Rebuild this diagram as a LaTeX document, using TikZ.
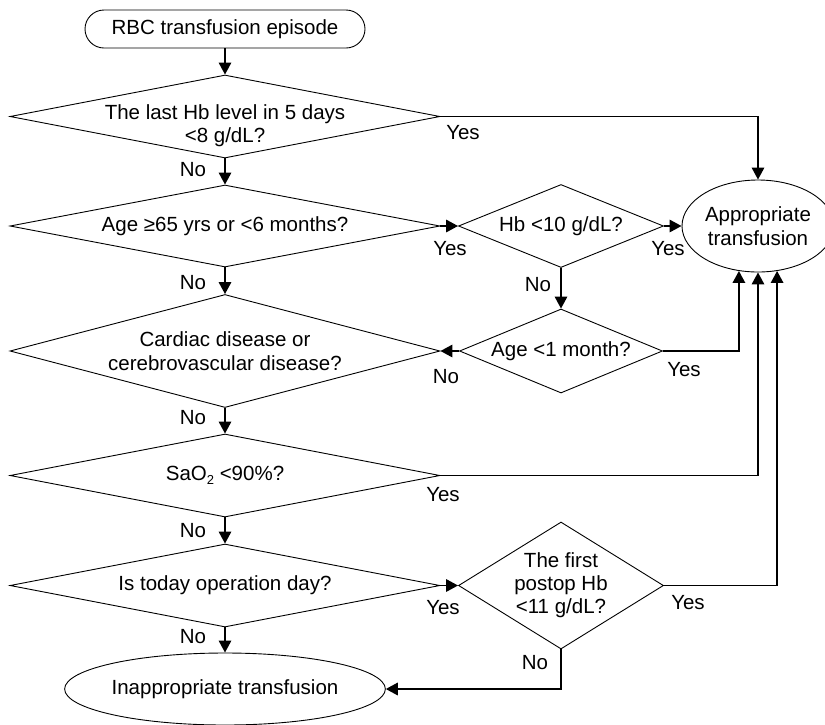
\documentclass[tikz,border=0pt]{standalone}
\usepackage{fontspec}
\setmainfont{Liberation Sans}
\usetikzlibrary{shapes.geometric,arrows.meta,calc}
\begin{document}
\begin{tikzpicture}[x=1pt,y=-1pt,
  every node/.style={font=\fontsize{20.5}{24}\selectfont},
  dec/.style={draw,line width=0.9pt,shape=diamond,inner xsep=-70pt,inner ysep=-10pt,align=center},
  term/.style={draw,line width=0.9pt,shape=ellipse,inner sep=0pt,align=center},
  conn/.style={line width=1.7pt,-{Triangle[length=12pt,width=12.5pt]}},
  lbl/.style={inner sep=0pt}]
\useasboundingbox (0,0) rectangle (825,724);
\node[draw,line width=0.9pt,rounded corners=19pt,minimum width=280pt,minimum height=38pt,inner sep=0pt] (start) at (225,29) {RBC transfusion episode};
\node[dec,aspect=5.18,minimum width=430pt,minimum height=83pt] (d1) at (225,116.5) {\rule{0pt}{33pt}The last Hb level in 5 days\\[-1pt]{<}8 g/dL?};
\node[dec,aspect=5.24,minimum width=430pt,minimum height=82pt] (d2) at (225,226) {Age ≥65 yrs or {<}6 months?};
\node[dec,aspect=3.81,minimum width=430pt,minimum height=113pt] (d3) at (225,351) {Cardiac disease or\\cerebrovascular disease?};
\node[dec,aspect=5.18,minimum width=430pt,minimum height=83pt] (d4) at (225,475.5) {SaO\raisebox{-4pt}{\fontsize{13}{13}\selectfont 2} {<}90\%?};
\node[dec,aspect=5.18,minimum width=430pt,minimum height=83pt] (d5) at (225,585.5) {Is today operation day?};
\node[dec,aspect=2.47,minimum width=205pt,minimum height=83pt] (hb) at (561,226) {Hb {<}10 g/dL?};
\node[dec,aspect=2.42,minimum width=203pt,minimum height=84pt] (age1) at (561,351) {Age {<}1 month?};
\node[dec,aspect=1.61,minimum width=205pt,minimum height=127pt] (post) at (561,585.5) {The first\\[-1pt]postop Hb\\[-1pt]{<}11 g/dL?};
\node[term,minimum width=152pt,minimum height=92pt] (app) at (758,226) {Appropriate\\transfusion};
\node[term,minimum width=304pt,minimum height=72pt] (inapp) at (225,689) {Inappropriate transfusion};

\draw[conn] (start.south) -- (d1.north);
\draw[conn] (d1.south) -- (d2.north);
\draw[conn] (d1.east) -| (app.north);
\draw[conn] (d2.east) -- (hb.west);
\draw[conn] (hb.east) -- (app.west);
\draw[conn] (hb.south) -- (age1.north);
\draw[conn] (age1.west) -- (d3.east);
\draw[conn] (age1.east) -| (app.247);
\draw[conn] (d2.south) -- (d3.north);
\draw[conn] (d3.south) -- (d4.north);
\draw[conn] (d4.east) -| (app.south);
\draw[conn] (d4.south) -- (d5.north);
\draw[conn] (d5.east) -- (post.west);
\draw[conn] (post.east) -| (app.293);
\draw[conn] (d5.south) -- (inapp.north);
\draw[conn] (post.south) |- (inapp.east);

\node[lbl] (l1) at (193,170) {No};
\node[lbl] (l2) at (193,283) {No};
\node[lbl] (l3) at (193,418) {No};
\node[lbl] (l4) at (193,531) {No};
\node[lbl] (l5) at (193,637) {No};
\node[lbl] (y1) at (463,133) {Yes};
\node[lbl] (y2) at (450,249) {Yes};
\node[lbl] (y3) at (668,249) {Yes};
\node[lbl] (n1) at (538,285) {No};
\node[lbl] (n2) at (446,377) {No};
\node[lbl] (y4) at (684,370) {Yes};
\node[lbl] (y5) at (443,495) {Yes};
\node[lbl] (y6) at (443,608) {Yes};
\node[lbl] (y7) at (688,603) {Yes};
\node[lbl] (n3) at (535,663) {No};
\end{tikzpicture}
\end{document}
